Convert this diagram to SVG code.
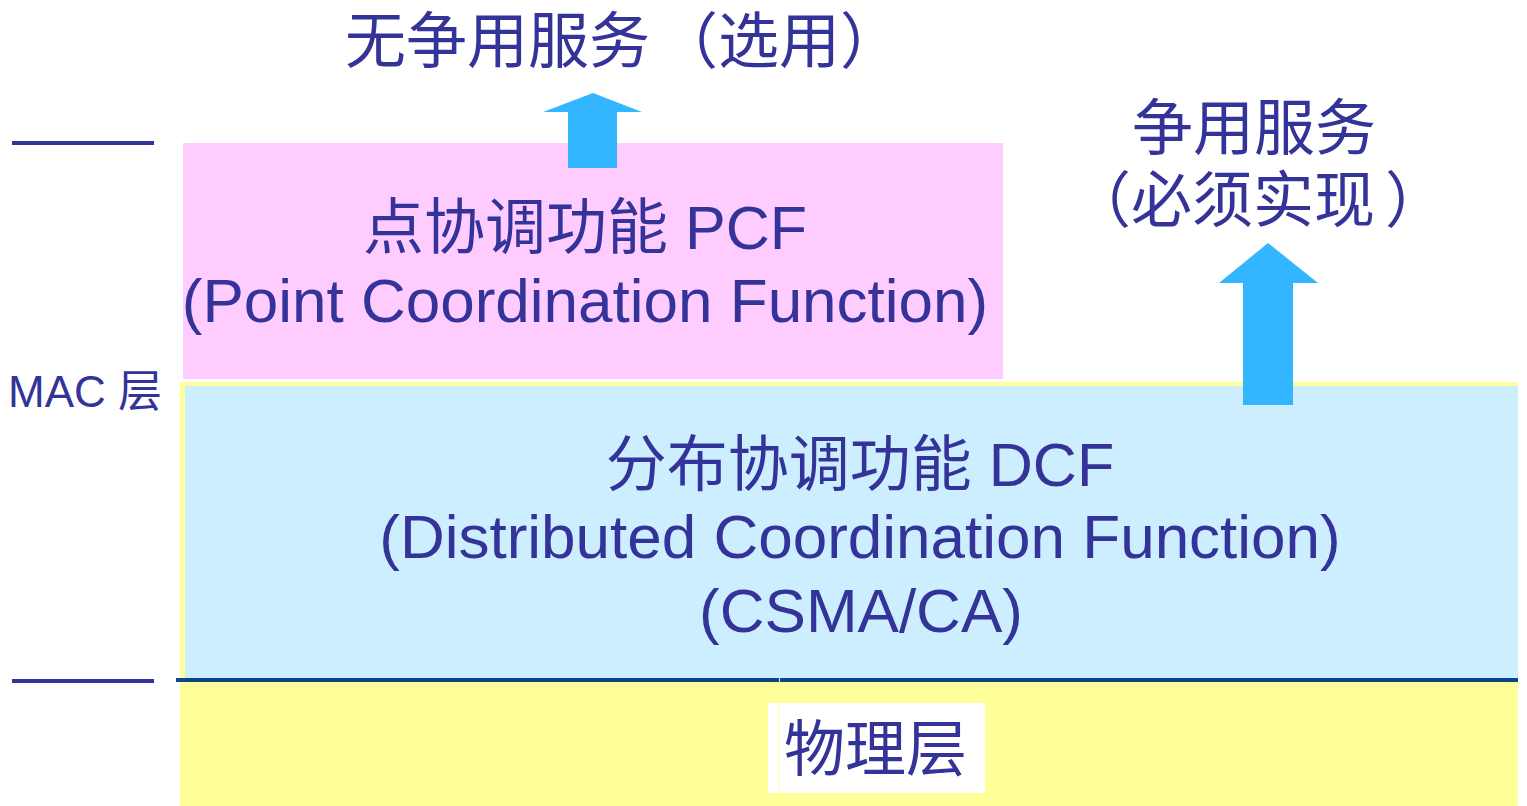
<svg xmlns="http://www.w3.org/2000/svg" width="1527" height="806" viewBox="0 0 1527 806">
  <style>
    .t { fill: #333399; font-family: "Liberation Sans", "Noto Sans CJK SC", sans-serif; }
    .cjk { font-family: "Noto Sans CJK SC", "Liberation Sans", sans-serif; }
    .big { font-size: 61px; }
    .lat { font-size: 62px; }
    .arrow { fill: #33b5ff; }
    .rule { stroke: #333399; stroke-width: 4; }
    .base { stroke: #0d4488; stroke-width: 4; }
  </style>
  <rect width="1527" height="806" fill="#ffffff"/>

  <g id="scale">
    <line class="rule" x1="12" y1="143" x2="154" y2="143"/>
    <line class="rule" x1="12" y1="681" x2="154" y2="681"/>
    <text class="t" x="8" y="407" font-size="44">MAC <tspan class="cjk">层</tspan></text>
  </g>

  <g id="phy">
    <rect x="180" y="382" width="1338" height="424" fill="#ffff99"/>
    <rect x="768" y="703" width="217" height="90" fill="#ffffff"/>
    <line x1="779.5" y1="703" x2="779.5" y2="793" stroke="#ffff99" stroke-width="1"/>
    <text class="t cjk big" x="784" y="771">物理层</text>
  </g>

  <g id="dcf">
    <rect x="185" y="386" width="1333" height="292" fill="#cceeff"/>
    <text class="t big" x="860" y="486" text-anchor="middle"><tspan class="cjk">分布协调功能</tspan> DCF</text>
    <text class="t lat" x="860" y="558" text-anchor="middle">(Distributed Coordination Function)</text>
    <text class="t lat" x="861" y="632" text-anchor="middle">(CSMA/CA)</text>
  </g>

  <g id="pcf">
    <rect x="183" y="143" width="820" height="236" fill="#ffccff"/>
    <text class="t big" x="585" y="249" text-anchor="middle"><tspan class="cjk">点协调功能</tspan> PCF</text>
    <text class="t lat" x="585" y="322" text-anchor="middle">(Point Coordination Function)</text>
  </g>

  <g id="line-base">
    <line class="base" x1="176" y1="680" x2="779" y2="680"/>
    <line class="base" x1="780" y1="680" x2="1518" y2="680"/>
  </g>

  <g id="label-free">
    <text class="t cjk big" x="345" y="63">无争用服务<tspan dx="7">（选用）</tspan></text>
  </g>

  <g id="label-contention">
    <text class="t cjk big" x="1254" y="150" text-anchor="middle">争用服务</text>
    <text class="t cjk big" x="1070" y="222">（必须实现<tspan dx="10">）</tspan></text>
  </g>

  <g id="connectors">
    <polygon class="arrow" points="593,93 642,112 617,112 617,168 568,168 568,112 543,112"/>
    <polygon class="arrow" points="1268,243 1318,283 1293,283 1293,405 1243,405 1243,283 1219,283"/>
  </g>
</svg>
